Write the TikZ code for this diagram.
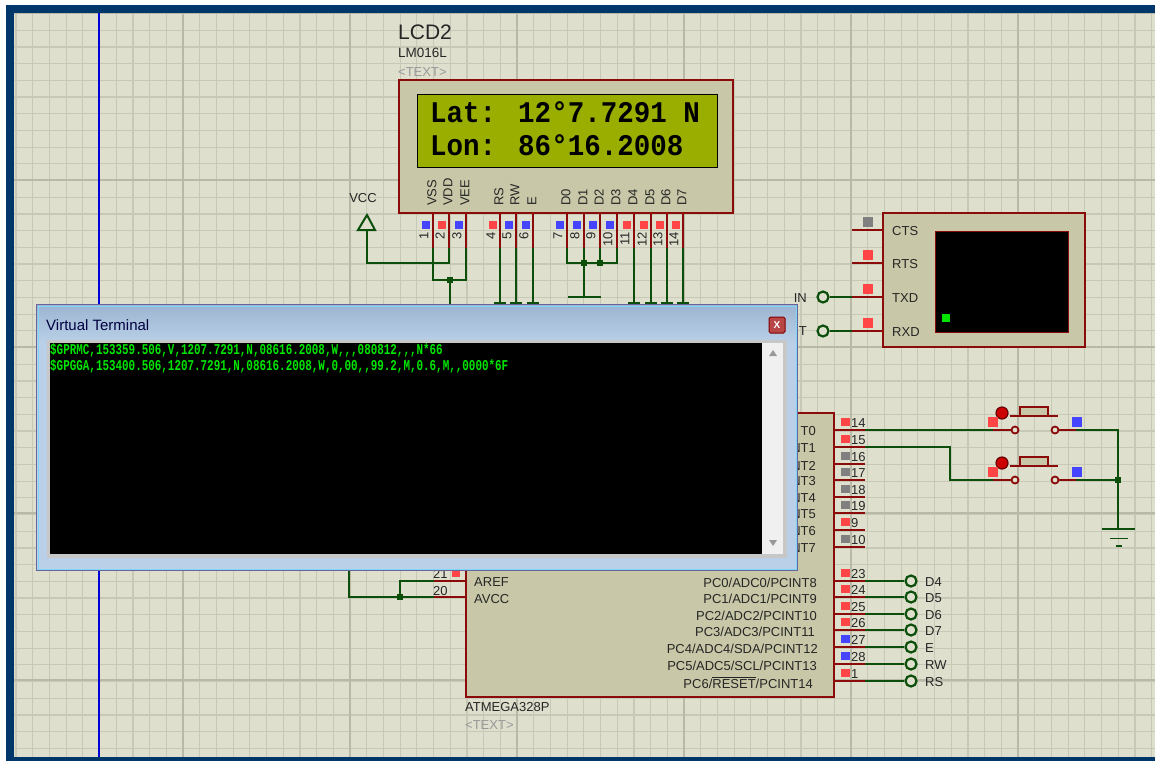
\documentclass[tikz,border=0pt]{standalone}
\usepackage{amsmath}
\usepackage{fontspec}
\setmainfont{Liberation Sans}
\newfontfamily\lcdfont[FakeStretch=0.917]{Liberation Mono}
\newfontfamily\termfont[FakeStretch=0.727]{Liberation Mono}
\usetikzlibrary{%
	calc,%
	shapes
}
\definecolor{framecol}{HTML}{00376B}
\definecolor{sheetcol}{HTML}{DFDFCE}
\definecolor{minorcol}{HTML}{C8C8B6}
\definecolor{majorcol}{HTML}{B9B9A8}
\definecolor{bodycol}{HTML}{C8C8A8}
\definecolor{edgecol}{HTML}{8B0A0A}
\definecolor{wirecol}{HTML}{0B4F0B}
\definecolor{pinred}{HTML}{FF4545}
\definecolor{pinblue}{HTML}{4545FF}
\definecolor{pingray}{HTML}{808080}
\definecolor{lcdcol}{HTML}{9AAE00}
\definecolor{wintop}{HTML}{9DB5D0}
\definecolor{winbot}{HTML}{B9D0E8}
\tikzset{
	body/.style={draw=edgecol, line width=2.6pt, fill=bodycol},
	pinline/.style={draw=edgecol, line width=2pt},
	wire/.style={draw=wirecol, line width=2pt},
	dotj/.style={fill=wirecol},
	lab/.style={inner sep=0pt, text=black!85, font=\fontsize{13}{13}\selectfont},
	graylab/.style={lab, text=black!40},
	ring/.style={circle, draw=wirecol, line width=2.2pt, fill=sheetcol, inner sep=0pt, minimum size=11pt},
	swring/.style={circle, draw=edgecol, line width=1.8pt, fill=sheetcol, inner sep=0pt, minimum size=7pt}
}
\begin{document}
\begin{tikzpicture}[x=1pt,y=-1pt]
	\useasboundingbox (0,0) rectangle (1155,761);
	% Window frame and sheet
	\fill[white] (0,0) rectangle (1155,761);
	\fill[framecol] (6,5) rectangle (1155,761);
	\fill[sheetcol] (14,13) rectangle (1155,757);
	
	% Grid of the sheet
	\foreach \i in {0,...,68} {
		\pgfmathsetmacro\gx{16+16.7*\i}
		\draw[minorcol, line width=1.2pt] (\gx,13) -- (\gx,757);
	}
	\foreach \i in {0,...,44} {
		\pgfmathsetmacro\gy{13.5+16.7*\i}
		\draw[minorcol, line width=1.2pt] (14,\gy) -- (1155,\gy);
	}
	\foreach \gx in {183,350,517,684,851,1018} {
		\draw[majorcol, line width=1.6pt] (\gx,13) -- (\gx,757);
	}
	\foreach \gy in {13.5,180,347,513,680} {
		\draw[majorcol, line width=1.6pt] (14,\gy) -- (1155,\gy);
	}
	\draw[blue!85!black, line width=1.2pt] (99,13) -- (99,757);
	
	% LCD and its texts
	\node[lab, anchor=west, font=\fontsize{21}{21}\selectfont] (lcdname) at (398,32) {LCD2};
	\node[lab, anchor=west, font=\fontsize{13.5}{13.5}\selectfont] (lcdtype) at (398,53) {LM016L};
	\node[graylab, anchor=west] (lcdtext) at (398,72) {<TEXT>};
	\draw[body] (399,80) rectangle (733,213);
	\draw[black, line width=1pt, fill=lcdcol] (417,94) rectangle (717,167);
	\node[inner sep=0pt, anchor=base west, font=\lcdfont\bfseries\fontsize{30}{30}\selectfont] (lcdlat) at (430,122) {Lat: 12°7.7291 N};
	\node[inner sep=0pt, anchor=base west, font=\lcdfont\bfseries\fontsize{30}{30}\selectfont] (lcdlon) at (430,155) {Lon: 86°16.2008};
	
	% LCD pins
	\foreach \x/\c/\n/\t in {433/pinblue/1/VSS,449/pinred/2/VDD,466/pinblue/3/VEE,500/pinred/4/RS,516/pinblue/5/RW,533/pinblue/6/E,567/pinblue/7/D0,584/pinblue/8/D1,600/pinblue/9/D2,617/pinblue/10/D3,634/pinred/11/D4,651/pinred/12/D5,667/pinred/13/D6,683/pinred/14/D7} {
		\coordinate (lcdpin\n) at (\x,248);
		\draw[pinline] (\x,213) -- (lcdpin\n);
		\fill[\c] (\x-11,221) rectangle (\x-3,229);
		\node[lab, rotate=90, anchor=east] (lcdnum\n) at (\x-9,232) {\n};
		\node[lab, rotate=90, anchor=west] (lcdlab\n) at (\x-1,206) {\t};
	}
	
	% Wires below the LCD
	\node[lab] (vcclab) at (363,198) {VCC};
	\coordinate (vccfoot) at (367,230);
	\coordinate (vccbar) at (449,263);
	\draw[wirecol, line width=2pt, fill=sheetcol] (367,215) -- (375,230) -- (358,230) -- cycle;
	\draw[wire] (vccfoot) |- (vccbar) -- (lcdpin2);
	\coordinate (vccdot) at (450,280);
	\coordinate (vcchid) at (450,305);
	\draw[wire] (lcdpin1) |- (vccdot) -| (lcdpin3);
	\draw[wire] (vccdot) -- (vcchid);
	\coordinate (dbar) at (584,263);
	\coordinate (dbartwo) at (600,263);
	\coordinate (dgnd) at (584,297);
	\draw[wire] (lcdpin7) |- (dbar) -- (dbartwo) -| (lcdpin10);
	\draw[wire] (lcdpin9) -- (dbartwo);
	\draw[wire] (lcdpin8) -- (dgnd);
	\draw[wirecol, line width=2pt] (568,297) -- (601,297);
	\foreach \c in {vccdot,dbar,dbartwo} {
		\fill[dotj] (\c) ++(-3,-3) rectangle ++(6,6);
	}
	\foreach \n/\x in {4/500,5/516,6/533,11/634,12/651,13/667,14/683} {
		\coordinate (lcdfoot\n) at (\x,303);
		\draw[wire] (lcdpin\n) -- (lcdfoot\n);
		\draw[wirecol, line width=2pt] (\x-6,303) -- (\x+6,303);
	}
	
	% Terminal on the right
	\draw[body] (883,213) rectangle (1085,347);
	\draw[edgecol, line width=1pt, fill=black] (935,231) rectangle (1068,332);
	\fill[green!90!black] (942,314) rectangle (950,322);
	\foreach \y/\c/\t in {230/pingray/CTS,263/pinred/RTS,297/pinred/TXD,331/pinred/RXD} {
		\coordinate (term\t) at (852,\y);
		\draw[pinline] (term\t) -- (883,\y);
		\fill[\c] (863,\y-13) rectangle (873,\y-3);
		\node[lab, anchor=west] (termlab\t) at (892,\y+1.5) {\t};
	}
	\node[ring] (ringin) at (823,297) {};
	\node[ring] (ringout) at (823,331) {};
	\draw[wire] (ringin) -- (termTXD);
	\draw[wire] (ringout) -- (termRXD);
	\node[lab, anchor=east] (inlab) at (807,298) {IN};
	\node[lab, anchor=east] (outlab) at (807,331) {OUT};
	
	% ATMEGA328P
	\draw[body] (466,413) rectangle (834,697);
	\node[lab, anchor=west] (mcuname) at (465,707) {ATMEGA328P};
	\node[graylab, anchor=west] (mcutext) at (465,725) {<TEXT>};
	\foreach \y/\c/\n/\t in {430/pinred/14/T0,447/pinred/15/NT1,464/pingray/16/NT2,480/pingray/17/NT3,497/pingray/18/NT4,513/pingray/19/NT5,530/pinred/9/NT6,547/pingray/10/NT7} {
		\coordinate (mcupin\n) at (865,\y);
		\draw[pinline] (834,\y) -- (mcupin\n);
		\fill[\c] (841,\y-12) rectangle (850,\y-4);
		\node[lab, anchor=west] (mcunum\n) at (851,\y-6.5) {\n};
		\node[lab, anchor=east] (mculab\n) at (816,\y+1.5) {\t};
	}
	\foreach \y/\c/\n/\e/\s/\r/\d in {581/pinred/23/817/PC0{/}ADC0{/}PCINT8/D4/d4,597/pinred/24/817/PC1{/}ADC1{/}PCINT9/D5/d5,614/pinred/25/817/PC2{/}ADC2{/}PCINT10/D6/d6,630/pinred/26/815/PC3{/}ADC3{/}PCINT11/D7/d7,647/pinblue/27/818/PC4{/}ADC4{/}SDA{/}PCINT12/E/e,664/pinblue/28/817/PC5{/}ADC5{/}SCL{/}PCINT13/RW/rw,681/pinred/1/813/PC6{/}$\overline{\mbox{RESET}}${/}PCINT14/RS/rs} {
		\coordinate (mcupin\n) at (865,\y);
		\draw[pinline] (834,\y) -- (mcupin\n);
		\fill[\c] (841,\y-12) rectangle (850,\y-4);
		\node[lab, anchor=west] (mcunum\n) at (851,\y-7) {\n};
		\node[lab, anchor=east] (mculab\n) at (\e,\y+1.5) {\s};
		\node[ring] (ring\d) at (911,\y) {};
		\node[lab, anchor=west] (ringlab\d) at (925,\y+1) {\r};
		\draw[wire] (mcupin\n) -- (ring\d);
	}
	\coordinate (pinaref) at (434,581);
	\coordinate (pinavcc) at (434,597);
	\draw[pinline] (pinaref) -- (466,581);
	\draw[pinline] (pinavcc) -- (466,597);
	\fill[pinred] (452,569) rectangle (460,577);
	\node[lab, anchor=west] (numaref) at (433,574) {21};
	\node[lab, anchor=west] (numavcc) at (433,591) {20};
	\node[lab, anchor=west] (labaref) at (474,582) {AREF};
	\node[lab, anchor=west] (labavcc) at (474,599) {AVCC};
	\coordinate (avccdot) at (400,597);
	\coordinate (avcchid) at (349,568);
	\draw[wire] (avcchid) |- (pinavcc);
	\draw[wire] (avccdot) |- (pinaref);
	\fill[dotj] (avccdot) ++(-3,-3) rectangle ++(6,6);
	
	% Push buttons
	\foreach \y/\n in {430/a,480/b} {
		\coordinate (swl\n) at (993,\y);
		\coordinate (swr\n) at (1076,\y);
		\node[swring] (swringl\n) at (1015,\y) {};
		\node[swring] (swringr\n) at (1055,\y) {};
		\draw[pinline] (swl\n) -- (swringl\n);
		\draw[pinline] (swringr\n) -- (swr\n);
		\draw[edgecol, line width=1.6pt, fill=bodycol] (1020,\y-23) rectangle (1048,\y-14);
		\draw[edgecol, line width=1.6pt] (1010,\y-14) -- (1058,\y-14);
		\draw[black!60!red, line width=1.2pt, fill=red!80!black] (1002,\y-17) circle (6);
		\fill[pinred] (988,\y-13) rectangle (998,\y-3);
		\fill[pinblue] (1072,\y-13) rectangle (1082,\y-3);
	}
	\coordinate (gndtop) at (1118,529);
	\coordinate (swjoin) at (1118,480);
	\draw[wire] (mcupin14) -- (swla);
	\draw[wire] (mcupin15) -- (950,447) |- (swlb);
	\draw[wire] (swra) -| (gndtop);
	\draw[wire] (swrb) -- (swjoin);
	\fill[dotj] (swjoin) ++(-3,-3) rectangle ++(6,6);
	\draw[wirecol, line width=1.8pt] (1102,529) -- (1135,529);
	\draw[wirecol, line width=1.8pt] (1110,538.5) -- (1128,538.5);
	\draw[wirecol, line width=1.8pt] (1116,546) -- (1122,546);
	
	% Virtual Terminal window on top
	\fill[winbot] (37,305) rectangle (797,570);
	\shade[top color=wintop, bottom color=winbot] (37,305) rectangle (797,343);
	\draw[black!65!blue!60!white, line width=1pt] (36.5,304.5) rectangle (797.5,570.5);
	\draw[cyan!50!white, line width=1pt] (38,306) rectangle (796,569);
	\node[lab, anchor=west, text=black!75!blue, font=\fontsize{15}{15}\selectfont] (wintitle) at (46,325) {Virtual Terminal};
	\draw[black!50!red, line width=1pt, fill=red!45!gray, rounded corners=1.5pt] (769,317) rectangle (785,333);
	\node[inner sep=0pt, text=white, font=\bfseries\fontsize{10}{10}\selectfont] (winclose) at (777,325) {X};
	\fill[black!22] (47,340) rectangle (787,558);
	\fill[black] (50,343) rectangle (762,554);
	\fill[black!6] (762,343) rectangle (783,554);
	\fill[black!40] (769,356) -- (773,350) -- (777,356) -- cycle;
	\fill[black!40] (769,540) -- (773,546) -- (777,540) -- cycle;
	\node[inner sep=0pt, anchor=west, text=green!90!black, font=\termfont\bfseries\fontsize{15}{15}\selectfont] (termone) at (50,350) {\$GPRMC,153359.506,V,1207.7291,N,08616.2008,W,,,080812,,,N*66};
	\node[inner sep=0pt, anchor=west, text=green!90!black, font=\termfont\bfseries\fontsize{15}{15}\selectfont] (termtwo) at (50,366) {\$GPGGA,153400.506,1207.7291,N,08616.2008,W,0,00,,99.2,M,0.6,M,,0000*6F};
\end{tikzpicture}
\end{document}
